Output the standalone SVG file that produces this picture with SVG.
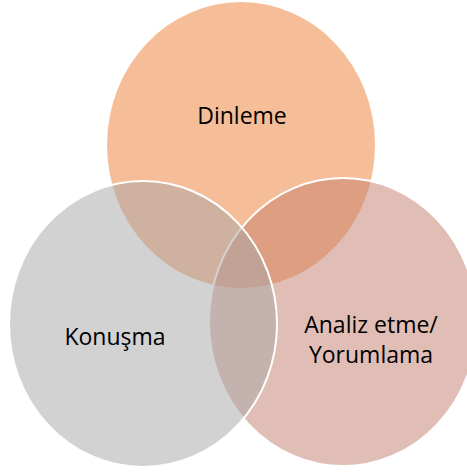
<svg xmlns="http://www.w3.org/2000/svg" width="467" height="476" viewBox="0 0 467 476">
  <style>
    .set { fill-opacity: 0.5; }
    .edged { stroke: #FFFFFF; stroke-width: 2; }
    .label { font-family: "Open Sans", "Noto Sans", sans-serif; font-size: 23px; fill: #000000; text-anchor: middle; }
  </style>
  <rect width="467" height="476" fill="#FFFFFF"/>
  <!-- drawn back to front: listening, analysis, speaking -->
  <g id="node-dinleme">
    <ellipse class="set" cx="241" cy="145" rx="134" ry="143" fill="#ED7D31"/>
    <text class="label" x="242" y="124">Dinleme</text>
  </g>
  <g id="node-analiz">
    <ellipse class="set edged" cx="343" cy="322" rx="134" ry="144" fill="#C37D6B"/>
    <text class="label" x="371" y="333">Analiz etme/</text>
    <text class="label" x="371" y="363">Yorumlama</text>
  </g>
  <g id="node-konusma">
    <ellipse class="set edged" cx="143" cy="324" rx="134" ry="143" fill="#A5A5A5"/>
    <text class="label" x="115" y="345">Konuşma</text>
  </g>
  <g id="connectors"/>
</svg>
